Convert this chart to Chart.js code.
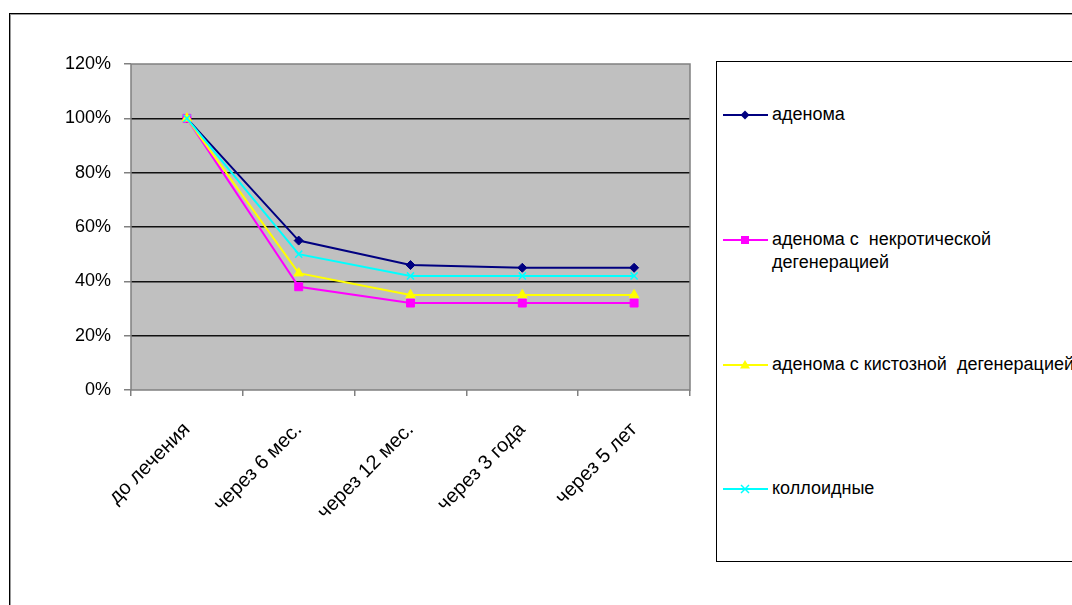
<!DOCTYPE html>
<html lang="ru">
<head>
<meta charset="utf-8">
<title>Динамика объёма узлов</title>
<script src="https://cdn.jsdelivr.net/npm/chart.js@4/dist/chart.umd.min.js"></script>
<style>
  html, body { margin: 0; padding: 0; background: #fff; }
  body { width: 1072px; height: 605px; position: relative; overflow: hidden;
         font-family: "Liberation Sans", Arial, sans-serif; }
  #frame { position: absolute; left: 9px; top: 13px; width: 1200px; height: 800px;
           border-left: 1px solid #000; border-top: 1px solid #000;
           box-shadow: inset 1px 1px 0 #999; }
  #wrap { position: absolute; left: 0; top: 0; width: 1072px; height: 605px; }
  #legend { position: absolute; left: 716px; top: 61px; width: 600px; height: 499px;
            border: 1px solid #000; background: #fff; }
  .item { position: absolute; left: 6px; display: flex; align-items: flex-start;
          font-size: 18px; color: #000; line-height: 23px; }
  .item svg { flex: none; margin-top: 0; }
  .item span { margin-left: 3px; white-space: pre; }
</style>
</head>
<body>
<div id="frame"></div>
<div id="wrap"><canvas id="chart" width="1072" height="605"></canvas></div>
<div id="legend"></div>
<script>
// Периоды наблюдения
const categories = ['до лечения', 'через 6 мес.', 'через 12 мес.', 'через 3 года', 'через 5 лет'];

// Названия групп (перенос строки — как в легенде)
const seriesNames = [
  'аденома',
  'аденома с  некротической\nдегенерацией',
  'аденома с кистозной  дегенерацией',
  'коллоидные'
];

// Доля от исходного объёма, %
const adenoma     = [100, 55, 46, 45, 45];
const necrotic    = [100, 38, 32, 32, 32];
const cystic      = [100, 43, 35, 35, 35];
const colloid     = [100, 50, 42, 42, 42];

// Деления оси значений
const yTicks = [0, 20, 40, 60, 80, 100, 120];

const seriesValues = [adenoma, necrotic, cystic, colloid];
const colors = ['#000080', '#FF00FF', '#FFFF00', '#00FFFF'];
const pointStyles = ['rectRot', 'rect', 'triangle', 'crossRot'];
const pointRadii = [4.5, 5.6, 5.5, 5];

const FAMILY = '"Liberation Sans", Arial, sans-serif';
const Y_FONT = { family: FAMILY, size: 18 };
const X_FONT = { family: FAMILY, size: 20 };

// Серый фон и рамка области построения
const plotBackground = {
  id: 'plotBackground',
  beforeDraw(chart) {
    const { ctx, chartArea: a } = chart;
    ctx.save();
    ctx.fillStyle = '#C0C0C0';
    ctx.fillRect(a.left, a.top, a.right - a.left, a.bottom - a.top);
    ctx.restore();
  },
  afterDatasetsDraw(chart) {
    const { ctx, chartArea: a } = chart;
    ctx.save();
    ctx.strokeStyle = '#808080';
    ctx.lineWidth = 1.5;
    ctx.strokeRect(a.left, a.top, a.right - a.left, a.bottom - a.top);
    ctx.restore();
  }
};

const datasets = seriesValues.map((vals, i) => ({
  label: seriesNames[i],
  data: vals,
  borderColor: colors[i],
  backgroundColor: colors[i],
  borderWidth: 2,
  pointStyle: pointStyles[i],
  pointRadius: pointRadii[i],
  pointHoverRadius: pointRadii[i],
  pointBorderColor: colors[i],
  pointBackgroundColor: colors[i],
  pointBorderWidth: i === 3 ? 1.5 : 1,
  tension: 0,
  order: seriesValues.length - 1 - i
}));

new Chart(document.getElementById('chart'), {
  type: 'line',
  data: { labels: categories, datasets },
  options: {
    responsive: false,
    animation: false,
    layout: { padding: { left: 10, top: 64, right: 382, bottom: 0 } },
    plugins: { legend: { display: false }, tooltip: { enabled: false } },
    scales: {
      x: {
        offset: true,
        afterFit(scale) { scale.height = 215; },
        grid: { offset: true, drawOnChartArea: false, drawTicks: true, tickLength: 6,
                tickColor: '#808080', lineWidth: 1.5 },
        border: { display: false },
        ticks: { font: X_FONT, color: '#000', minRotation: 45, maxRotation: 45,
                 autoSkip: false, padding: 22 }
      },
      y: {
        min: 0, max: 120,
        afterFit(scale) { scale.width = 121; },
        afterBuildTicks(scale) { scale.ticks = yTicks.map(v => ({ value: v })); },
        grid: {
          color: ctx => (ctx.tick && (ctx.tick.value === 0 || ctx.tick.value === 120)) ? 'rgba(0,0,0,0)' : '#111',
          lineWidth: 1.5, drawTicks: true, tickLength: 7, tickColor: '#808080'
        },
        border: { display: false },
        ticks: { font: Y_FONT, color: '#000', padding: 13, callback: v => v + '%' }
      }
    }
  },
  plugins: [plotBackground]
});

// Легенда справа
const legend = document.getElementById('legend');
const itemTops = [41, 166, 291, 415];
const svgNS = 'http://www.w3.org/2000/svg';
function markerSvg(i) {
  const svg = document.createElementNS(svgNS, 'svg');
  svg.setAttribute('width', '46'); svg.setAttribute('height', '23');
  const line = document.createElementNS(svgNS, 'line');
  line.setAttribute('x1', '0'); line.setAttribute('x2', '45');
  line.setAttribute('y1', '12'); line.setAttribute('y2', '12');
  line.setAttribute('stroke', colors[i]); line.setAttribute('stroke-width', '2');
  svg.appendChild(line);
  let m;
  const cx = 22, cy = 12;
  if (pointStyles[i] === 'rectRot') {
    m = document.createElementNS(svgNS, 'polygon');
    m.setAttribute('points', `${cx},${cy-4.5} ${cx+4.5},${cy} ${cx},${cy+4.5} ${cx-4.5},${cy}`);
    m.setAttribute('fill', colors[i]);
  } else if (pointStyles[i] === 'rect') {
    m = document.createElementNS(svgNS, 'rect');
    m.setAttribute('x', cx - 4); m.setAttribute('y', cy - 4);
    m.setAttribute('width', 8); m.setAttribute('height', 8);
    m.setAttribute('fill', colors[i]);
  } else if (pointStyles[i] === 'triangle') {
    m = document.createElementNS(svgNS, 'polygon');
    m.setAttribute('points', `${cx},${cy-5} ${cx+5},${cy+3.5} ${cx-5},${cy+3.5}`);
    m.setAttribute('fill', colors[i]);
  } else {
    m = document.createElementNS(svgNS, 'path');
    m.setAttribute('d', `M${cx-4},${cy-4} L${cx+4},${cy+4} M${cx+4},${cy-4} L${cx-4},${cy+4}`);
    m.setAttribute('stroke', colors[i]); m.setAttribute('stroke-width', '1.5');
  }
  svg.appendChild(m);
  return svg;
}
seriesNames.forEach((name, i) => {
  const item = document.createElement('div');
  item.className = 'item';
  item.style.top = itemTops[i] + 'px';
  item.appendChild(markerSvg(i));
  const span = document.createElement('span');
  span.textContent = name;
  item.appendChild(span);
  legend.appendChild(item);
});
</script>
</body>
</html>
